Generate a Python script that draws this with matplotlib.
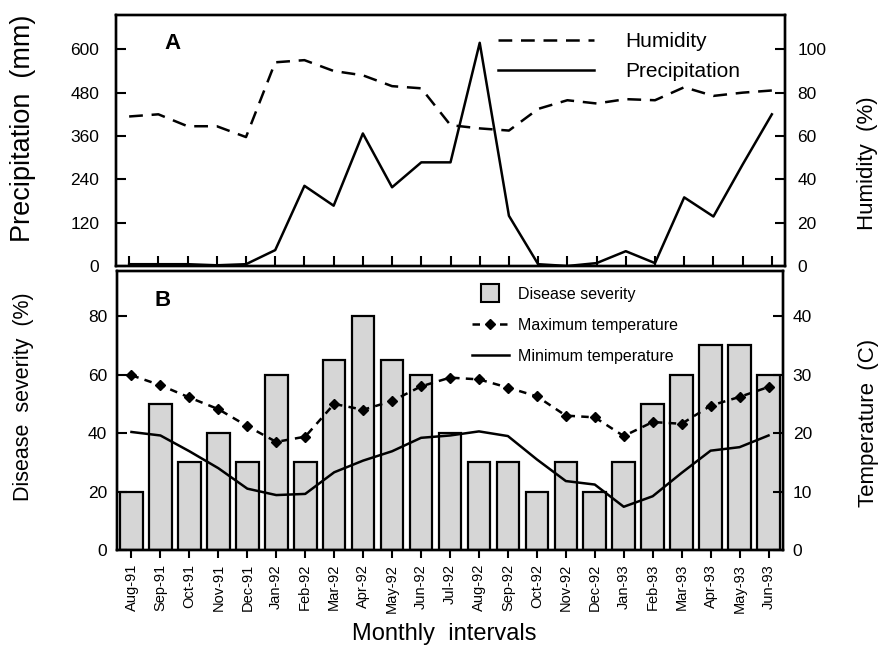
import matplotlib
matplotlib.use('Agg')
import matplotlib.pyplot as plt
from matplotlib.lines import Line2D
import numpy as np

months = ['Aug-91', 'Sep-91', 'Oct-91', 'Nov-91', 'Dec-91', 'Jan-92', 'Feb-92',
          'Mar-92', 'Apr-92', 'May-92', 'Jun-92', 'Jul-92', 'Aug-92', 'Sep-92',
          'Oct-92', 'Nov-92', 'Dec-92', 'Jan-93', 'Feb-93', 'Mar-93', 'Apr-93',
          'May-93', 'Jun-93']
precipitation = [5, 5, 5, 2, 5, 44, 222, 167, 367, 218, 287, 287, 618, 139,
                 5, 0, 8, 41, 8, 190, 137, 281, 420]
humidity = [69, 70, 64.5, 64.5, 59.5, 94, 95, 90, 88, 83, 82, 65, 63.5, 62.5,
            72.5, 76.5, 75, 77, 76.5, 82.5, 78.5, 80, 81]
severity = [20, 50, 30, 40, 30, 60, 30, 65, 80, 65, 60, 40, 30, 30, 20, 30,
            20, 30, 50, 60, 70, 70, 60]
max_temp = [29.9, 28.2, 26.1, 24.1, 21.2, 18.5, 19.4, 25.0, 24.0, 25.5, 28.0,
            29.5, 29.2, 27.8, 26.3, 23.0, 22.7, 19.5, 21.9, 21.6, 24.7, 26.2, 27.9]
min_temp = [20.2, 19.6, 16.9, 14.0, 10.5, 9.4, 9.6, 13.3, 15.3, 16.9, 19.2,
            19.6, 20.3, 19.5, 15.5, 11.8, 11.2, 7.4, 9.2, 13.2, 17.0, 17.6, 19.6]
precip_ticks = [0, 120, 240, 360, 480, 600]
humid_ticks = [0, 20, 40, 60, 80, 100]
sev_ticks = [0, 20, 40, 60, 80]
temp_ticks = [0, 10, 20, 30, 40]

plt.rcParams['font.family'] = ['Liberation Sans', 'DejaVu Sans']
plt.rcParams['axes.linewidth'] = 1.7

fig = plt.figure(figsize=(8.8, 6.47), dpi=100)
axA = fig.add_axes([116/880, 1-266/647, 669/880, 251/647])
axB = fig.add_axes([117/880, 1-550/647, 666/880, 279/647])
x = np.arange(len(months))

# ---- Panel A ----
axA.plot(x, precipitation, color='black', lw=1.8)
axA2 = axA.twinx()
axA2.plot(x, humidity, color='black', lw=1.8, ls=(0, (5.5, 3.5)))
axA.set_xlim(-0.45, len(months) - 0.55)
axA.set_ylim(0, 695)
axA2.set_ylim(0, 695 / 6)
axA.set_yticks(precip_ticks)
axA2.set_yticks(humid_ticks)
axA.set_xticks(x)
axA.set_xticklabels([])
axA.tick_params(axis='x', direction='in', length=7, width=1.5)
axA.tick_params(axis='y', direction='in', length=7, width=1.5, labelsize=12.5, pad=12)
axA2.tick_params(axis='y', direction='in', length=7, width=1.5, labelsize=12.5, pad=9)
axA.set_ylabel('Precipitation  (mm)', fontsize=19.5, va='center')
axA.yaxis.set_label_coords(-0.139, 0.55)
axA2.set_ylabel('Humidity  (%)', fontsize=16, va='center')
axA2.yaxis.set_label_coords(1.124, 0.41)
axA.text(0.084, 0.888, 'A', transform=axA.transAxes, fontsize=16,
         fontweight='bold', ha='center', va='center')
hA = [Line2D([], [], color='black', lw=1.8, ls=(0, (5.5, 3.5))),
      Line2D([], [], color='black', lw=1.8)]
axA2.legend(hA, ['Humidity', 'Precipitation'], loc='upper left',
            bbox_to_anchor=(498/880, 1-32/647), bbox_transform=fig.transFigure,
            frameon=False, fontsize=15, handlelength=4.6, handletextpad=1.5,
            labelspacing=0.55, borderpad=0, borderaxespad=0)

# ---- Panel B ----
axB.bar(x, severity, width=0.78, color='#d6d6d6', edgecolor='black', lw=1.6)
axB2 = axB.twinx()
axB2.plot(x, max_temp, color='black', lw=1.8, ls=(0, (3, 2.5)),
          marker='D', markersize=5.5)
axB2.plot(x, min_temp, color='black', lw=1.8)
axB.set_xlim(-0.5, len(months) - 0.5)
axB.set_ylim(0, 95.5)
axB2.set_ylim(0, 95.5 / 2)
axB.set_yticks(sev_ticks)
axB2.set_yticks(temp_ticks)
axB.set_xticks(x)
axB.set_xticklabels(months, rotation=90, fontsize=10.5)
axB.tick_params(axis='x', direction='out', length=6, width=1.5, pad=4)
axB.tick_params(axis='y', direction='in', length=7, width=1.5, labelsize=12.5, pad=7)
axB2.tick_params(axis='y', direction='in', length=7, width=1.5, labelsize=12.5, pad=7)
axB.set_ylabel('Disease  severity  (%)', fontsize=15.5, va='center')
axB.yaxis.set_label_coords(-0.141, 0.548)
axB2.set_ylabel('Temperature  (C)', fontsize=16, va='center')
axB2.yaxis.set_label_coords(1.129, 0.455)
axB.set_xlabel('Monthly  intervals', fontsize=17, va='center')
axB.xaxis.set_label_coords(0.492, -0.30)
axB.text(0.068, 0.896, 'B', transform=axB.transAxes, fontsize=16,
         fontweight='bold', ha='center', va='center')
hB = [Line2D([], [], ls='none', marker='s', markersize=13,
             markerfacecolor='#d6d6d6', markeredgecolor='black', markeredgewidth=1.5),
      Line2D([], [], color='black', lw=1.8, ls=(0, (3, 2.5)), marker='D', markersize=5.5),
      Line2D([], [], color='black', lw=1.8)]
axB2.legend(hB, ['Disease severity', 'Maximum temperature', 'Minimum temperature'],
            loc='upper left', bbox_to_anchor=(472/880, 1-287/647),
            bbox_transform=fig.transFigure, frameon=False, fontsize=11.5,
            handlelength=2.3, handletextpad=0.6, labelspacing=1.0, numpoints=1,
            borderpad=0, borderaxespad=0)

fig.savefig('out.png', dpi=100)
